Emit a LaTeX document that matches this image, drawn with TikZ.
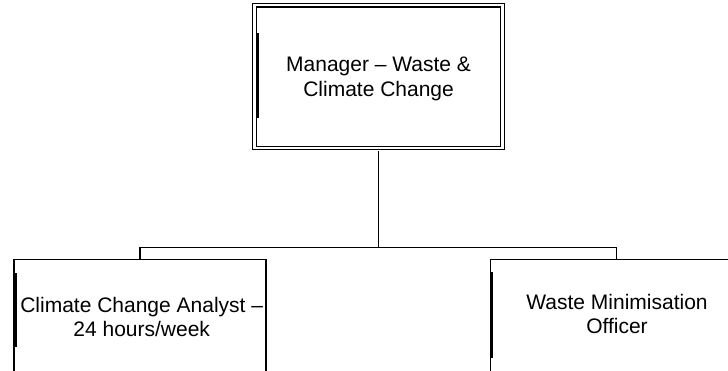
\documentclass[tikz,border=0pt]{standalone}
\usepackage{fontspec}
\setmainfont{Liberation Sans}
\begin{document}
\begin{tikzpicture}[x=0.75pt,y=-0.75pt,
  txt/.style={align=center, inner sep=0pt, font=\fontsize{15.75pt}{18.5pt}\selectfont},
  topbox/.style={draw, line width=0.8pt, double, double distance=2.1pt, inner sep=0pt,
     minimum width=185.7pt, minimum height=107.2pt},
  lowbox/.style={draw, line width=0.95pt, inner sep=0pt, minimum width=189pt, minimum height=97.5pt},
  conn/.style={line width=1.1pt},
  bar/.style={fill=black}]
\useasboundingbox (0,0) rectangle (728,371);
\clip (0,0) rectangle (728,371);
% top manager box
\node[topbox] (mgr) at (378.4,76.5) {};
\node[txt] (mgrt) at (378.6,79) {Manager -- Waste \&\\Climate Change};
\fill[bar] (256.8,33) rectangle (259.4,118);
% lower boxes
\node[lowbox, anchor=north] (cca) at (140,258.5) {};
\node[txt] (ccat) at (141.7,317) {Climate Change Analyst --\\24 hours/week};
\fill[bar] (13.8,273) rectangle (16.6,346.5);
\node[lowbox, anchor=north] (wmo) at (616.7,258.5) {};
\node[txt] (wmot) at (617,314) {Waste Minimisation\\Officer};
\fill[bar] (490.6,271.7) rectangle (493.4,358);
% connectors
\coordinate (bus) at (378.4,247.3);
\draw[conn, shorten <=2pt] (mgr.south) -- (bus);
\draw[conn] (cca.north) |- (bus) -| (wmo.north);
\end{tikzpicture}
\end{document}
